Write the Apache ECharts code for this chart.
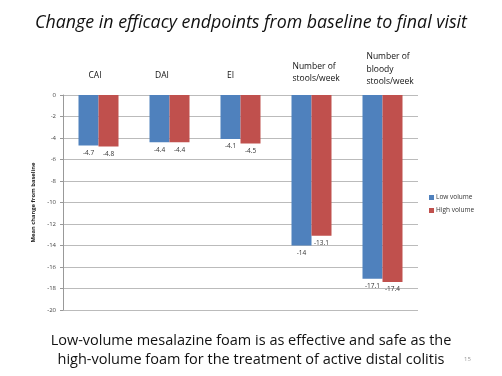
<!DOCTYPE html>
<html>
<head>
<meta charset="utf-8">
<script src="https://cdn.jsdelivr.net/npm/echarts@6/dist/echarts.min.js"></script>
<style>
  html, body { margin: 0; padding: 0; background: #fff; }
  #chart { width: 502px; height: 376px; }
</style>
</head>
<body>
<div id="chart"></div>
<script>
// categories along the top
const categories = ['CAI', 'DAI', 'EI', 'Number of\nstools/week', 'Number of\nbloody\nstools/week']
// mean change from baseline
const lowVolume = [-4.7, -4.4, -4.1, -14, -17.1]
const highVolume = [-4.8, -4.4, -4.5, -13.1, -17.4]
const seriesNames = ['Low volume', 'High volume']

const chart = echarts.init(document.getElementById('chart'))
const font = 'Open Sans'

// nudge each header a bit, the slide places them by hand
const headerPadding = [
  [0, 7, 7, 0],
  [0, 15, 7, 0],
  [0, 20, 7, 0],
  [0, 0, 4, 12],
  [0, 0, 1, 18]
]

const labelOpt = {
  show: true,
  position: 'bottom',
  distance: 4,
  fontSize: 6.5,
  color: '#333',
  fontFamily: font
}

chart.setOption({
  animation: false,
  title: [
    {
      text: 'Change in efficacy endpoints from baseline to final visit',
      left: 'center',
      top: 9,
      textStyle: { fontFamily: font, fontStyle: 'italic', fontWeight: 'normal', fontSize: 17.8, color: '#111' }
    },
    {
      text: 'Low-volume mesalazine foam is as effective and safe as the\nhigh-volume foam for the treatment of active distal colitis',
      left: 246,
      top: 326,
      textAlign: 'center',
      textStyle: { fontFamily: font, fontWeight: 'normal', fontSize: 14.5, lineHeight: 19, color: '#111' }
    },
    {
      text: '15',
      left: 459,
      top: 351,
      textStyle: { fontFamily: font, fontWeight: 'normal', fontSize: 6, color: '#999' }
    }
  ],
  legend: {
    orient: 'vertical',
    left: 424,
    top: 189,
    itemWidth: 5,
    itemHeight: 5,
    itemGap: 6,
    icon: 'rect',
    textStyle: { fontFamily: font, fontSize: 6.5, color: '#333', padding: [0, 0, 0, -3] }
  },
  grid: { left: 63, right: 84, top: 95, bottom: 66 },
  xAxis: {
    type: 'category',
    position: 'top',
    data: categories.map((c, i) => ({ value: c, textStyle: { padding: headerPadding[i] } })),
    axisLine: { show: false },
    axisTick: { show: false },
    axisLabel: {
      margin: 6,
      interval: 0,
      fontFamily: font,
      fontSize: 8.5,
      lineHeight: 12.5,
      color: '#111',
      align: 'center',
      formatter: function(v) {
        if (v.indexOf('\n') < 0) return v
        return v.split('\n').map(s => '{l|' + s + '}').join('\n')
      },
      rich: {
        l: { width: 50, align: 'left', fontFamily: font, fontSize: 8.5, lineHeight: 12.5, color: '#111' }
      }
    }
  },
  yAxis: {
    type: 'value',
    min: -20,
    max: 0,
    interval: 2,
    name: 'Mean change from baseline',
    nameLocation: 'middle',
    nameGap: 24,
    nameTextStyle: { fontFamily: font, fontSize: 5.8, fontWeight: 'bold', color: '#222' },
    axisLine: { show: true, lineStyle: { color: '#999' } },
    axisTick: { show: true, length: 3, lineStyle: { color: '#999' } },
    axisLabel: { fontFamily: font, fontSize: 6, color: '#444', margin: 7 },
    splitLine: { lineStyle: { color: '#bbb', width: 1 } }
  },
  series: [
    {
      name: seriesNames[0],
      type: 'bar',
      data: lowVolume,
      barWidth: 20,
      barGap: '0%',
      itemStyle: { color: '#4F81BD' },
      label: labelOpt
    },
    {
      name: seriesNames[1],
      type: 'bar',
      data: highVolume,
      barWidth: 20,
      itemStyle: { color: '#C0504D' },
      label: labelOpt
    }
  ]
})
</script>
</body>
</html>
